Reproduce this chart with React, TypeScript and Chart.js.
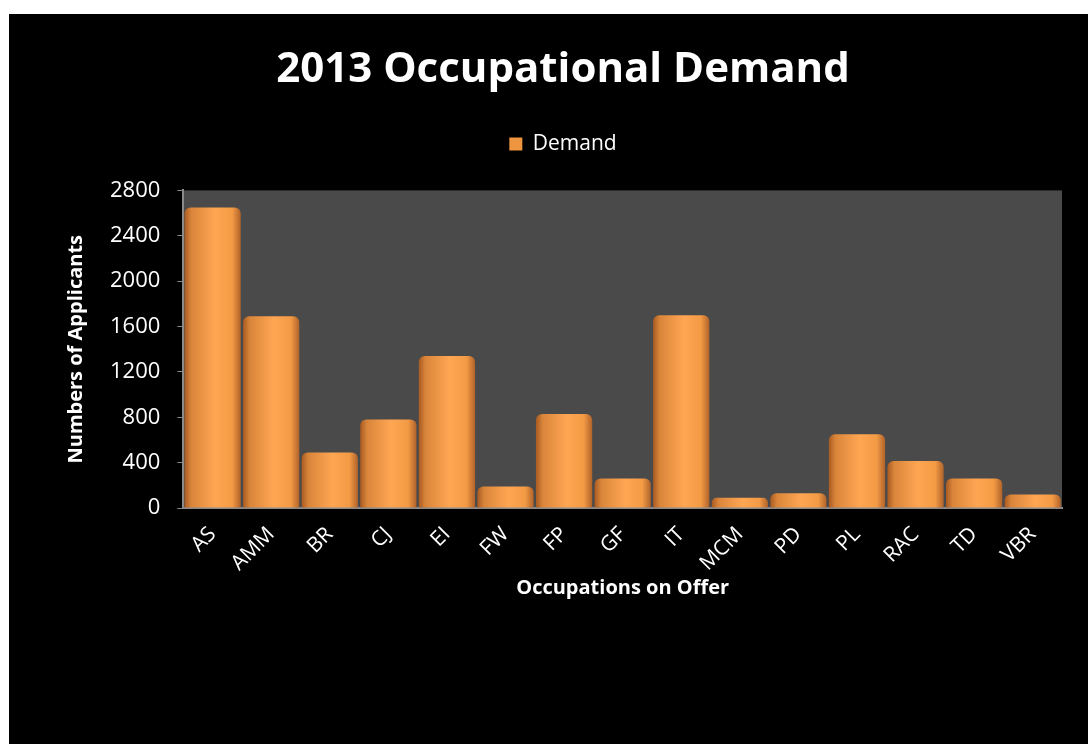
import React, { useEffect, useRef } from "react";
import { Chart, registerables } from "chart.js";

Chart.register(...registerables);

const categories = ["AS", "AMM", "BR", "CJ", "EI", "FW", "FP", "GF", "IT", "MCM", "PD", "PL", "RAC", "TD", "VBR"];
const demand = [2650, 1690, 490, 780, 1340, 190, 830, 260, 1700, 90, 130, 650, 415, 260, 120];
const yTicks = [0, 400, 800, 1200, 1600, 2000, 2400, 2800];

const FONT = "'Open Sans', 'Noto Sans', sans-serif";

const plotBg = {
  id: "plotBg",
  beforeDraw(chart: any) {
    const { ctx, chartArea } = chart;
    if (!chartArea) return;
    ctx.save();
    ctx.fillStyle = "#4a4a4a";
    ctx.fillRect(chartArea.left, chartArea.top, chartArea.right - chartArea.left, chartArea.bottom - chartArea.top);
    ctx.restore();
  },
};

const legendGap = {
  id: "legendGap",
  beforeInit(chart: any) {
    const lg = chart.legend;
    if (!lg) return;
    const orig = lg.fit;
    lg.fit = function () {
      orig.call(this);
      this.height += 26;
    };
  },
};

export default function App() {
  const ref = useRef<HTMLCanvasElement | null>(null);
  useEffect(() => {
    if (!ref.current) return;
    const chart = new Chart(ref.current, {
      type: "bar",
      data: {
        labels: categories,
        datasets: [
          {
            label: "Demand",
            data: demand,
            categoryPercentage: 0.96,
            barPercentage: 1,
            borderRadius: { topLeft: 6, topRight: 6, bottomLeft: 0, bottomRight: 0 },
            borderSkipped: "bottom",
            backgroundColor: (c: any) => {
              const ch = c.chart;
              const xs = ch.scales && ch.scales.x;
              if (!ch.chartArea || !xs || c.dataIndex === undefined) return "#f0953f";
              const x = xs.getPixelForValue(c.dataIndex);
              const w = (xs.width / categories.length) * 0.96;
              const g = ch.ctx.createLinearGradient(x - w / 2, 0, x + w / 2, 0);
              g.addColorStop(0, "#a85a22");
              g.addColorStop(0.12, "#d9853a");
              g.addColorStop(0.55, "#ffa653");
              g.addColorStop(0.85, "#f39a45");
              g.addColorStop(1, "#b0632a");
              return g;
            },
          },
        ],
      },
      options: {
        responsive: false,
        animation: false,
        layout: { padding: { left: 55, right: 26, top: 0, bottom: 144 } },
        plugins: {
          title: {
            display: true,
            text: "2013 Occupational Demand",
            color: "#ffffff",
            font: { family: FONT, size: 42, weight: "bold" },
            padding: { top: 31, bottom: 14 },
          },
          legend: {
            display: true,
            position: "top",
            labels: {
              color: "#ffffff",
              font: { family: FONT, size: 21 },
              boxWidth: 13,
              boxHeight: 13,
              padding: 24,
              generateLabels: () => [
                { text: "Demand", fillStyle: "#f0953f", strokeStyle: "#f0953f", lineWidth: 0, fontColor: "#ffffff", datasetIndex: 0 } as any,
              ],
            },
          },
          tooltip: { enabled: false },
        },
        scales: {
          x: {
            grid: { display: false },
            border: { color: "#8a8a8a", width: 2 },
            ticks: {
              color: "#ffffff",
              font: { family: FONT, size: 21 },
              maxRotation: 45,
              minRotation: 45,
              padding: 6,
            },
            title: {
              display: true,
              text: "Occupations on Offer",
              color: "#ffffff",
              font: { family: FONT, size: 20, weight: "bold" },
              padding: { top: -6, bottom: 0 },
            },
          },
          y: {
            min: 0,
            max: 2800,
            afterBuildTicks: (axis: any) => {
              axis.ticks = yTicks.map((v) => ({ value: v }));
            },
            grid: { display: true, drawOnChartArea: false, drawTicks: true, tickLength: 6, color: "#8a8a8a" },
            border: { color: "#8a8a8a", width: 2 },
            ticks: {
              color: "#ffffff",
              font: { family: FONT, size: 22 },
              padding: 17,
              callback: (v: any) => String(v),
            },
            title: {
              display: true,
              text: "Numbers of Applicants",
              color: "#ffffff",
              font: { family: FONT, size: 20, weight: "bold" },
              padding: { top: 0, bottom: 5 },
            },
          },
        },
      },
      plugins: [plotBg, legendGap],
    });
    return () => chart.destroy();
  }, []);
  return (
    <div style={{ position: "absolute", left: 9, top: 14, width: 1079, height: 730, background: "#000000" }}>
      <canvas ref={ref} width={1079} height={730} style={{ display: "block" }} />
    </div>
  );
}
